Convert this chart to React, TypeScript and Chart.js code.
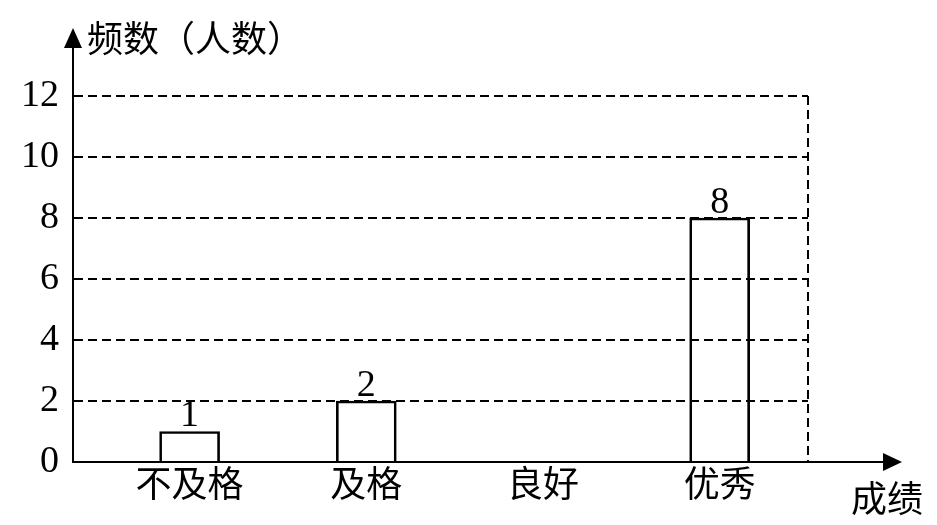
import React, { useEffect, useRef } from "react";
import { Chart, registerables } from "chart.js";

Chart.register(...registerables);

const categories = ["不及格", "及格", "良好", "优秀"];
const counts: (number | null)[] = [1, 2, null, 8];
const yTicks = [0, 2, 4, 6, 8, 10, 12];
const yTitle = "频数（人数）";
const xTitle = "成绩";

const SERIF = '"Liberation Serif", "Times New Roman", serif';
const CJK = '"Noto Sans CJK SC", sans-serif';

const decorPlugin = {
  id: "decor",
  afterDraw(chart: any) {
    const { ctx, chartArea } = chart;
    const { left, right, top, bottom } = chartArea;
    ctx.save();
    ctx.strokeStyle = "#000";
    ctx.fillStyle = "#000";
    ctx.lineWidth = 2;

    // dashed right border
    ctx.setLineDash([9, 5]);
    ctx.beginPath();
    ctx.moveTo(right, top);
    ctx.lineTo(right, bottom);
    ctx.stroke();
    ctx.setLineDash([]);

    // y axis extension + arrow
    const yArrowBase = 48;
    const yArrowTip = 28;
    ctx.beginPath();
    ctx.moveTo(left, top);
    ctx.lineTo(left, yArrowBase);
    ctx.stroke();
    ctx.beginPath();
    ctx.moveTo(left, yArrowTip);
    ctx.lineTo(left - 9, yArrowBase);
    ctx.lineTo(left + 9, yArrowBase);
    ctx.closePath();
    ctx.fill();

    // x axis extension + arrow
    const xArrowTip = chart.width - 35;
    const xArrowBase = xArrowTip - 19;
    ctx.beginPath();
    ctx.moveTo(right, bottom);
    ctx.lineTo(xArrowBase, bottom);
    ctx.stroke();
    ctx.beginPath();
    ctx.moveTo(xArrowTip, bottom);
    ctx.lineTo(xArrowBase, bottom - 9);
    ctx.lineTo(xArrowBase, bottom + 9);
    ctx.closePath();
    ctx.fill();

    // axis titles
    ctx.font = `36px ${CJK}`;
    ctx.textAlign = "left";
    ctx.textBaseline = "alphabetic";
    ctx.fillText(yTitle, left + 14, 52);
    ctx.fillText(xTitle, chart.width - 86, 512);

    // value labels
    ctx.font = `38px ${SERIF}`;
    ctx.textAlign = "center";
    ctx.textBaseline = "bottom";
    const meta = chart.getDatasetMeta(0);
    meta.data.forEach((bar: any, i: number) => {
      const v = counts[i];
      if (v === null || v === undefined) return;
      ctx.fillText(String(v), bar.x, bar.y + 4);
    });
    ctx.restore();
  },
};

export default function App() {
  const ref = useRef<HTMLCanvasElement | null>(null);
  useEffect(() => {
    if (!ref.current) return;
    const chart = new Chart(ref.current, {
      type: "bar",
      data: {
        datasets: [
          {
            data: categories.map((c, i) => ({ x: i + 1, y: counts[i] })) as any,
            backgroundColor: "rgba(0,0,0,0)",
            borderColor: "#000",
            borderWidth: 2,
            barThickness: 60,
          },
        ],
      },
      options: {
        animation: false,
        responsive: true,
        maintainAspectRatio: false,
        layout: { padding: { left: 0, top: 96, right: 129, bottom: 0 } },
        plugins: { legend: { display: false }, tooltip: { enabled: false } },
        scales: {
          x: {
            type: "linear",
            offset: false,
            min: 0.34,
            max: 4.5,
            afterBuildTicks: (scale: any) => {
              scale.ticks = categories.map((_, i) => ({ value: i + 1 }));
            },
            afterFit: (scale: any) => {
              scale.height = 63;
            },
            ticks: {
              callback: (v: any) => categories[Math.round(v) - 1] ?? "",
              font: { family: CJK, size: 36 },
              color: "#000",
              padding: 0,
              autoSkip: false,
              maxRotation: 0,
            },
            grid: { display: false, drawTicks: false, offset: false },
            border: { display: true, color: "#000", width: 2 },
          },
          y: {
            min: 0,
            max: 12,
            afterBuildTicks: (scale: any) => {
              scale.ticks = yTicks.map((v) => ({ value: v }));
            },
            afterFit: (scale: any) => {
              scale.width = 73;
            },
            ticks: {
              font: { family: SERIF, size: 38 },
              color: "#000",
              padding: 14,
            },
            grid: { color: "#000", lineWidth: 2, drawTicks: false },
            border: { display: true, color: "#000", width: 2, dash: [9, 5] },
          },
        },
      },
      plugins: [decorPlugin],
    });
    return () => chart.destroy();
  }, []);
  return (
    <div style={{ position: "absolute", left: 0, top: 0, width: 937, height: 525, background: "#fff" }}>
      <canvas ref={ref} />
    </div>
  );
}
